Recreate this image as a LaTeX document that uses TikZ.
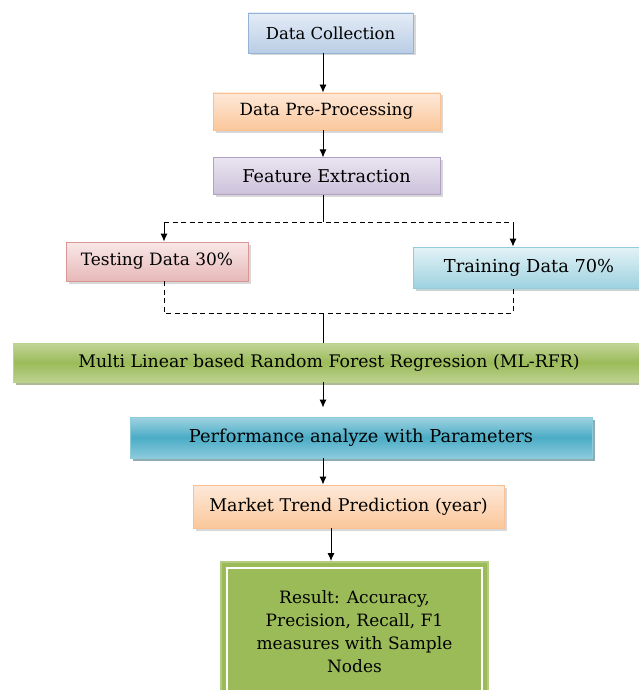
\documentclass[tikz,border=0pt]{standalone}
\usepackage{fontspec}
\setmainfont{DejaVu Serif}
\usetikzlibrary{arrows.meta,shadows,positioning,calc}

\definecolor{bluelt}{HTML}{E4ECF6}
\definecolor{bluedk}{HTML}{B9CDE5}
\definecolor{blueln}{HTML}{95B3D7}
\definecolor{orglt}{HTML}{FDE9D9}
\definecolor{orgdk}{HTML}{FBC79B}
\definecolor{orgln}{HTML}{FAC090}
\definecolor{purlt}{HTML}{E9E4F0}
\definecolor{purdk}{HTML}{CCC1DA}
\definecolor{purln}{HTML}{B2A1C7}
\definecolor{redlt}{HTML}{F8E8E7}
\definecolor{reddk}{HTML}{E6B9B8}
\definecolor{redln}{HTML}{D99694}
\definecolor{cyanlt}{HTML}{E3F2F6}
\definecolor{cyandk}{HTML}{9ED2E0}
\definecolor{cyanln}{HTML}{93CDDD}
\definecolor{grnlt}{HTML}{C2D59A}
\definecolor{grnmd}{HTML}{9BBB59}
\definecolor{grnbt}{HTML}{BCD28F}
\definecolor{grnsh}{HTML}{5F7530}
\definecolor{tealt}{HTML}{9FD3E1}
\definecolor{teamd}{HTML}{4BACC6}
\definecolor{teabt}{HTML}{8CCBDC}
\definecolor{teash}{HTML}{215968}
\definecolor{resfill}{HTML}{9BBB59}
\definecolor{resln}{HTML}{B3CC82}

\tikzset{
block/.style={
  rectangle,
  draw,
  line width=0.9pt,
  inner sep=0pt,
  font=\fontsize{16.5}{19}\selectfont},
softshadow/.style={drop shadow={shadow xshift=2.5pt, shadow yshift=-2.5pt, fill=#1}},
bluebox/.style={block, top color=bluelt, bottom color=bluedk, draw=blueln, softshadow=black!30},
orangebox/.style={block, top color=orglt, bottom color=orgdk, draw=orgln, softshadow=black!30},
purplebox/.style={block, top color=purlt, bottom color=purdk, draw=purln, softshadow=black!30},
redbox/.style={block, top color=redlt, bottom color=reddk, draw=redln, softshadow=black!30},
cyanbox/.style={block, top color=cyanlt, bottom color=cyandk, draw=cyanln, softshadow=cyanln!50!black!60},
greenbox/.style={block, top color=grnlt, bottom color=grnbt, middle color=grnmd, draw=grnbt, softshadow=grnsh},
tealbox/.style={block, top color=tealt, bottom color=teabt, middle color=teamd, draw=teabt, softshadow=teash},
flow/.style={draw, line width=0.9pt, -{Latex[length=8pt,width=7pt]}},
wire/.style={draw, line width=0.9pt},
split/.style={draw, line width=0.9pt, dash pattern=on 5pt off 3.5pt}
}

\begin{document}
\begin{tikzpicture}[x=1pt,y=-1pt]
    \useasboundingbox (0,0) rectangle (639,690);
    \coordinate (mid) at (323,0);
    \coordinate (mid2) at (331,0);
    % main column
    \node [bluebox, minimum width=165pt, minimum height=40pt] (collect) at (330.5,33) {Data Collection\hspace{10pt}};
    \node [orangebox, minimum width=227pt, minimum height=37pt, font=\fontsize{16.8}{19}\selectfont] (preproc) at (326.5,111.5) {Data Pre-Processing};
    \node [purplebox, minimum width=227pt, minimum height=37pt, font=\fontsize{17.6}{20}\selectfont, below=27pt of preproc] (feature) {Feature Extraction};
    \node [redbox, minimum width=182pt, minimum height=39pt, font=\fontsize{17}{19}\selectfont] (testing) at (157,261.5) {Testing Data 30\%\hspace{9pt}};
    \node [cyanbox, minimum width=232pt, minimum height=41pt, font=\fontsize{17.8}{20}\selectfont] (training) at (529,267.5) {Training Data 70\%};
    \node [greenbox, minimum width=632pt, minimum height=39pt, font=\fontsize{17.3}{20}\selectfont] (mlrfr) at (329,362.5) {Multi Linear based Random Forest Regression (ML-RFR)};
    \node [tealbox, minimum width=462pt, minimum height=41pt, font=\fontsize{17.8}{20}\selectfont] (perf) at (361,437.5) {Performance analyze with Parameters};
    \node [orangebox, minimum width=311pt, minimum height=43pt, font=\fontsize{17.5}{20}\selectfont] (market) at (348.5,506.5) {Market Trend Prediction (year)\hspace{14pt}};
    \node [rectangle, fill=resfill, draw=resln, line width=2pt, minimum width=267pt, minimum height=139pt,
      align=center, font=\fontsize{17}{23}\selectfont] (result) at (354.5,631.5)
      {Result: Accuracy,\\ Precision, Recall, F1\\ measures with Sample\\ Nodes};
    \draw [white, line width=1.5pt] ($(result.north west)+(7,7)$) rectangle ($(result.south east)+(-7,-7)$);
    % split into testing / training
    \coordinate (fork) at (323,222);
    \coordinate (tl) at (164,222);
    \coordinate (tr) at (513,222);
    \coordinate (bl) at (164,313);
    \coordinate (br) at (513,313);
    \coordinate (join) at (323,313);
    \path [flow] (collect.south -| mid) -- (preproc.north -| mid);
    \path [flow] (preproc.south -| mid) -- (feature.north -| mid);
    \path [wire] (feature.south -| mid) -- (fork);
    \path [split] (tl) -- (tr);
    \path [flow] (tl) -- (testing.north -| tl);
    \path [flow] (tr) -- (training.north -| tr);
    \path [split] (testing.south -| bl) -- (bl) -- (br) -- (training.south -| br);
    \path [wire] (join) -- (mlrfr.north -| mid);
    \path [flow, shorten >=9pt] (mlrfr.south -| mid) -- (perf.north -| mid);
    \path [flow] (perf.south -| mid) -- (market.north -| mid);
    \path [flow] (market.south -| mid2) -- (result.north -| mid2);
\end{tikzpicture}
\end{document}
